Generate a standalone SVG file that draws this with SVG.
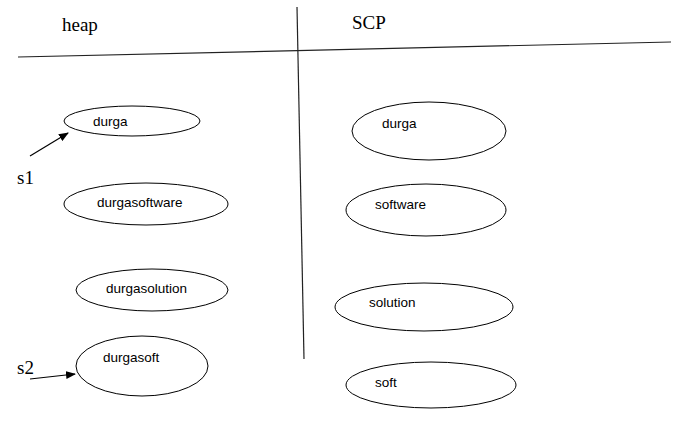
<svg xmlns="http://www.w3.org/2000/svg" width="679" height="434" viewBox="0 0 679 434">
<style>
.n ellipse{fill:#fff;stroke:#000;stroke-width:1}
.t{font-family:"Liberation Sans",Arial,sans-serif;font-size:13.5px;fill:#000}
.s{font-family:"Liberation Serif","Times New Roman",serif;font-size:19px;fill:#000}
.c line{stroke:#000;stroke-width:1.2}
</style>
<defs>
<marker id="ah" markerWidth="10" markerHeight="8" refX="9" refY="4" orient="auto" markerUnits="userSpaceOnUse">
<path d="M0,0 L10,4 L0,8 Z" fill="#000"/>
</marker>
</defs>
<g id="frame">
<line x1="18" y1="57" x2="671" y2="42" stroke="#222" stroke-width="1.2"/>
<line x1="297" y1="7" x2="304" y2="359" stroke="#222" stroke-width="1.2"/>
<text class="s" x="62" y="31">heap</text>
<text class="s" x="352" y="29">SCP</text>
<text class="s" x="17" y="184">s1</text>
<text class="s" x="17" y="374">s2</text>
</g>
<g id="heap-durga" class="n"><ellipse cx="132" cy="121" rx="68" ry="15"/><text class="t" x="93" y="126">durga</text></g>
<g id="heap-durgasoftware" class="n"><ellipse cx="146" cy="204" rx="82" ry="21"/><text class="t" x="97" y="207">durgasoftware</text></g>
<g id="heap-durgasolution" class="n"><ellipse cx="152" cy="290" rx="76" ry="21"/><text class="t" x="106" y="293">durgasolution</text></g>
<g id="heap-durgasoft" class="n"><ellipse cx="142" cy="366" rx="66" ry="30"/><text class="t" x="103" y="362">durgasoft</text></g>
<g id="scp-durga" class="n"><ellipse cx="429" cy="131" rx="77" ry="29"/><text class="t" x="382" y="128">durga</text></g>
<g id="scp-software" class="n"><ellipse cx="426" cy="210" rx="80" ry="26"/><text class="t" x="375" y="209">software</text></g>
<g id="scp-solution" class="n"><ellipse cx="424" cy="307" rx="89" ry="24"/><text class="t" x="369" y="307">solution</text></g>
<g id="scp-soft" class="n"><ellipse cx="431" cy="385" rx="85" ry="23"/><text class="t" x="375" y="387">soft</text></g>
<g id="connectors" class="c">
<line x1="30" y1="156" x2="68" y2="133" marker-end="url(#ah)"/>
<line x1="30" y1="379" x2="75" y2="374" marker-end="url(#ah)"/>
</g>
</svg>
